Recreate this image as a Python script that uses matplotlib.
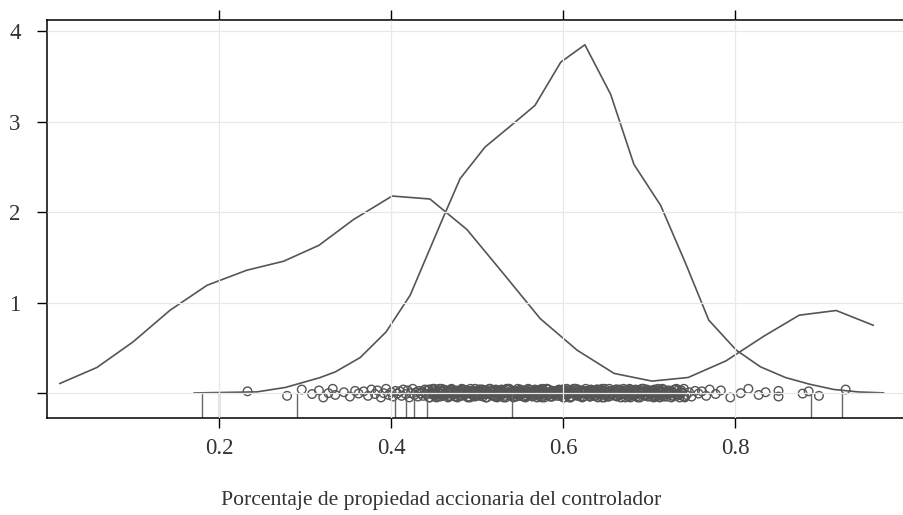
import matplotlib

matplotlib.use("Agg")
import matplotlib.pyplot as plt  # noqa: E402
import numpy as np  # noqa: E402

plt.rcParams["font.family"] = ["Liberation Serif", "DejaVu Serif"]

# densidad 1 (amplia, pico ~0.4)
dens_a_x = [0.015, 0.058, 0.100, 0.143, 0.186, 0.232, 0.275, 0.316, 0.356, 0.401,
            0.445, 0.488, 0.530, 0.573, 0.616, 0.659, 0.703, 0.745, 0.789, 0.833,
            0.874, 0.917, 0.960]
dens_a_y = [0.107, 0.284, 0.567, 0.917, 1.193, 1.359, 1.459, 1.635, 1.919, 2.180,
            2.147, 1.809, 1.326, 0.825, 0.475, 0.218, 0.133, 0.173, 0.357, 0.630,
            0.862, 0.914, 0.751]

# densidad 2 (estrecha, pico ~0.62)
dens_b_x = [0.171, 0.244, 0.277, 0.317, 0.335, 0.364, 0.394, 0.422, 0.459, 0.480,
            0.509, 0.538, 0.567, 0.597, 0.625, 0.655, 0.682, 0.713, 0.742, 0.769,
            0.801, 0.829, 0.858, 0.886, 0.914, 0.943, 0.972]
dens_b_y = [0.002, 0.014, 0.063, 0.171, 0.235, 0.394, 0.677, 1.083, 1.912, 2.372,
            2.722, 2.950, 3.182, 3.661, 3.853, 3.304, 2.530, 2.077, 1.436, 0.807,
            0.475, 0.291, 0.173, 0.099, 0.041, 0.013, 0.003]

# observaciones (puntos con jitter)
obs_x = [0.233, 0.279, 0.296, 0.308, 0.316, 0.321, 0.327, 0.332, 0.335, 0.345,
         0.352, 0.358, 0.362, 0.368, 0.373, 0.377, 0.381, 0.384, 0.388, 0.391,
         0.394, 0.397, 0.400, 0.402, 0.405, 0.407, 0.410, 0.412, 0.414, 0.417,
         0.419, 0.421, 0.423, 0.425, 0.427, 0.429,
         0.431, 0.432, 0.434, 0.436, 0.437, 0.439, 0.441, 0.443, 0.444, 0.446,
         0.448, 0.449, 0.451, 0.453, 0.454, 0.456, 0.458, 0.460, 0.461, 0.463,
         0.465, 0.466, 0.468, 0.470, 0.472, 0.473, 0.475, 0.477, 0.478, 0.480,
         0.482, 0.484, 0.485, 0.487, 0.489, 0.490, 0.492, 0.494, 0.496, 0.497,
         0.499, 0.501, 0.502, 0.504, 0.506, 0.508, 0.509, 0.511, 0.513, 0.514,
         0.516, 0.518, 0.520, 0.521, 0.523, 0.525, 0.526, 0.528, 0.530, 0.532,
         0.533, 0.535, 0.537, 0.538, 0.540, 0.542, 0.544, 0.545, 0.547, 0.549,
         0.550, 0.552, 0.554, 0.556, 0.557, 0.559, 0.561, 0.562, 0.564, 0.566,
         0.568, 0.569, 0.571, 0.573, 0.574, 0.576, 0.578, 0.580, 0.581, 0.583,
         0.585, 0.586, 0.588, 0.590, 0.592, 0.593, 0.595, 0.597, 0.598, 0.600,
         0.602, 0.604, 0.605, 0.607, 0.609, 0.610, 0.612, 0.614, 0.616, 0.617,
         0.619, 0.621, 0.622, 0.624, 0.626, 0.628, 0.629, 0.631, 0.633, 0.634,
         0.636, 0.638, 0.640, 0.641, 0.643, 0.645, 0.646, 0.648, 0.650, 0.652,
         0.653, 0.655, 0.657, 0.658, 0.660, 0.662, 0.664, 0.665, 0.667, 0.669,
         0.670, 0.672, 0.674, 0.676, 0.677, 0.679, 0.681, 0.682, 0.684, 0.686,
         0.688, 0.689, 0.691, 0.693, 0.694, 0.696, 0.698, 0.700, 0.701, 0.703,
         0.705, 0.706, 0.708, 0.710, 0.712, 0.713, 0.715, 0.717, 0.718, 0.720,
         0.722, 0.724, 0.725, 0.727, 0.729, 0.731, 0.733, 0.735, 0.737, 0.740,
         0.743, 0.746, 0.749, 0.753, 0.757, 0.761, 0.766, 0.770,
         0.777, 0.783, 0.794, 0.806, 0.815, 0.827, 0.835, 0.850, 0.850, 0.878,
         0.885, 0.897, 0.928,
         0.440, 0.442, 0.445, 0.447, 0.450, 0.452, 0.455, 0.457, 0.460, 0.462,
         0.465, 0.467, 0.470, 0.472, 0.475, 0.477, 0.480, 0.482, 0.485, 0.487,
         0.490, 0.492, 0.495, 0.497, 0.500, 0.502, 0.505, 0.507, 0.510, 0.512,
         0.515, 0.517, 0.520, 0.522, 0.525, 0.527, 0.530, 0.532, 0.535, 0.537,
         0.540, 0.542, 0.545, 0.547, 0.550, 0.552, 0.555, 0.557, 0.560, 0.562,
         0.565, 0.567, 0.570, 0.572, 0.575, 0.577, 0.580, 0.582, 0.585, 0.587,
         0.590, 0.592, 0.595, 0.597, 0.600, 0.602, 0.605, 0.607, 0.610, 0.612,
         0.615, 0.617, 0.620, 0.622, 0.625, 0.627, 0.630, 0.632, 0.635, 0.637,
         0.640, 0.642, 0.645, 0.647, 0.650, 0.652, 0.655, 0.657, 0.660, 0.662,
         0.665, 0.667, 0.670, 0.672, 0.675, 0.677, 0.680, 0.682, 0.685, 0.687,
         0.690, 0.692, 0.695, 0.697, 0.700, 0.702, 0.705, 0.707, 0.710, 0.712,
         0.715, 0.717, 0.720, 0.722, 0.725, 0.727, 0.730, 0.733, 0.737, 0.741,
         0.451, 0.456, 0.463, 0.469, 0.474, 0.481, 0.486, 0.493, 0.498, 0.504,
         0.511, 0.516, 0.523, 0.528, 0.534, 0.541, 0.546, 0.553, 0.558, 0.564,
         0.571, 0.576, 0.583, 0.588, 0.594, 0.601, 0.606, 0.613, 0.618, 0.624,
         0.631, 0.636, 0.643, 0.648, 0.654, 0.661, 0.666, 0.673, 0.678, 0.684,
         0.691, 0.696, 0.703, 0.708, 0.714, 0.721, 0.726, 0.732,
         0.4435, 0.4465, 0.4495, 0.4525, 0.4555, 0.4585, 0.4615, 0.4645, 0.4675, 0.4705,
         0.4735, 0.4765, 0.4795, 0.4825, 0.4855, 0.4885, 0.4915, 0.4945, 0.4975, 0.5005,
         0.5035, 0.5065, 0.5095, 0.5125, 0.5155, 0.5185, 0.5215, 0.5245, 0.5275, 0.5305,
         0.5335, 0.5365, 0.5395, 0.5425, 0.5455, 0.5485, 0.5515, 0.5545, 0.5575, 0.5605,
         0.5635, 0.5665, 0.5695, 0.5725, 0.5755, 0.5785, 0.5815, 0.5845, 0.5875, 0.5905,
         0.5935, 0.5965, 0.5995, 0.6025, 0.6055, 0.6085, 0.6115, 0.6145, 0.6175, 0.6205,
         0.6235, 0.6265, 0.6295, 0.6325, 0.6355, 0.6385, 0.6415, 0.6445, 0.6475, 0.6505,
         0.6535, 0.6565, 0.6595, 0.6625, 0.6655, 0.6685, 0.6715, 0.6745, 0.6775, 0.6805,
         0.6835, 0.6865, 0.6895, 0.6925, 0.6955, 0.6985, 0.7015, 0.7045, 0.7075, 0.7105,
         0.7135, 0.7165, 0.7195, 0.7225, 0.7255, 0.7285, 0.7315, 0.7345, 0.7375, 0.7405]

# observaciones marcadas con líneas verticales
drop_x = [0.180, 0.200, 0.290, 0.404, 0.417, 0.426, 0.442, 0.540, 0.888, 0.924]

JITTER = [0.02, -0.03, 0.04, -0.01, 0.03, -0.048, 0.0, 0.048, -0.02, 0.01,
          -0.038, 0.025, -0.005]
YLIM = (-0.277, 4.126)
LINE = "#555555"

fig = plt.figure(figsize=(9.04, 5.15), dpi=100)
ax = fig.add_axes([0.052, 0.188, 0.9475, 0.773])

jit = np.resize(JITTER, len(obs_x))
ax.scatter(obs_x, jit, s=38, facecolors="none", edgecolors=LINE, linewidths=1.0, zorder=1)
ax.vlines(drop_x, YLIM[0], 0, color="#666666", lw=1.0, zorder=1)
ax.plot(dens_a_x, dens_a_y, color=LINE, lw=1.2, zorder=2)
ax.plot(dens_b_x, dens_b_y, color=LINE, lw=1.2, zorder=2)

ax.set_xlim(0.0, 0.9953)
ax.set_ylim(*YLIM)
ax.set_xticks([0.2, 0.4, 0.6, 0.8])
ax.set_xticklabels(["0.2", "0.4", "0.6", "0.8"])
ax.set_yticks([0, 1, 2, 3, 4])
ax.set_yticklabels(["", "1", "2", "3", "4"])
ax.set_axisbelow(False)
ax.grid(True, color="#e8e8e8", lw=0.9)

ax.tick_params(axis="x", direction="out", length=7, width=1, pad=7,
               labelsize=16.5, labelcolor="#333333", top=True, bottom=True)
ax.tick_params(axis="y", direction="out", length=7, width=1, pad=12,
               labelsize=16.5, labelcolor="#333333", right=False)
for s in ax.spines.values():
    s.set_linewidth(1.1)

fig.text(441 / 904, 1 - 501 / 515, "Porcentaje de propiedad accionaria del controlador",
         ha="center", va="center", fontsize=15.6, color="#333333")

fig.savefig("out.png", dpi=100)
